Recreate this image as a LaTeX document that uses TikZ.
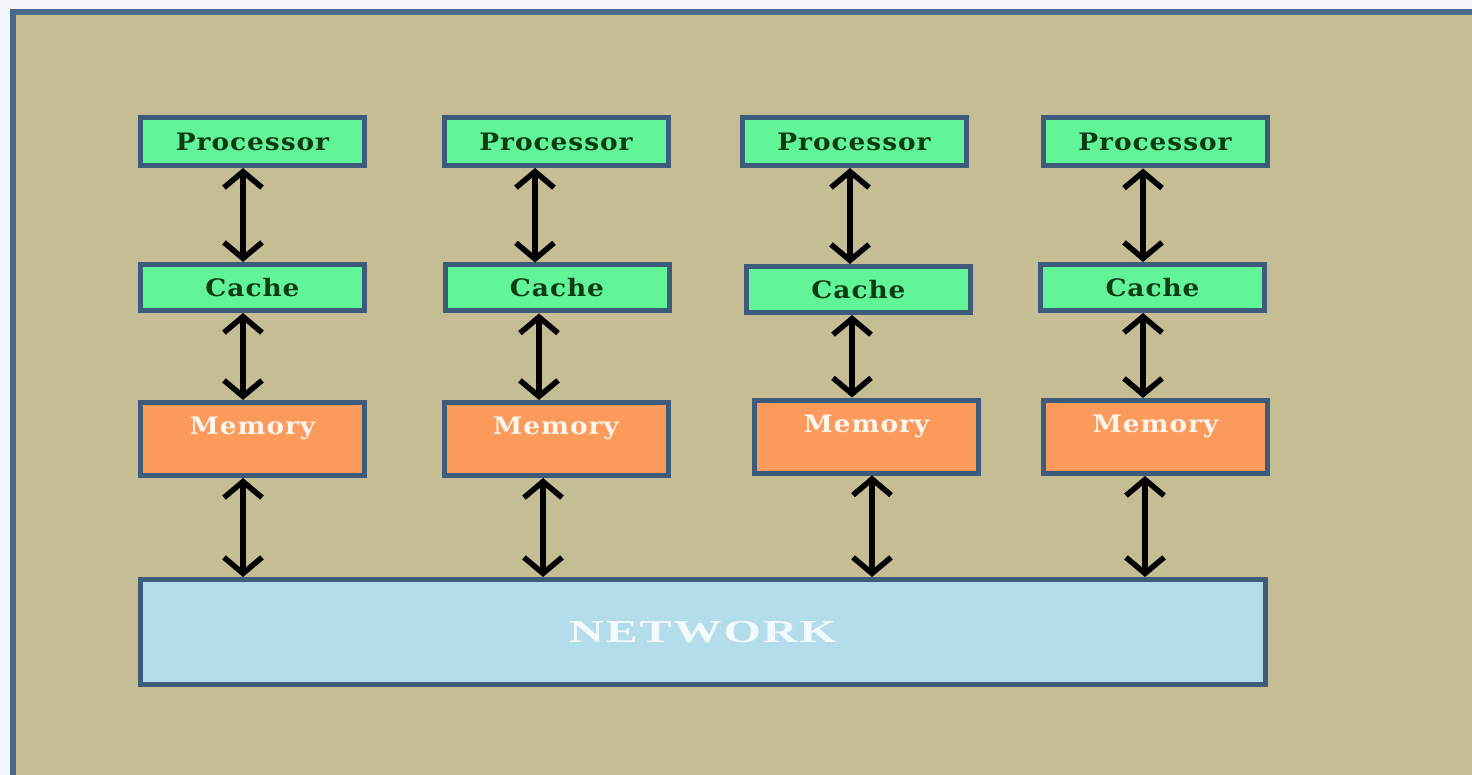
\documentclass[tikz,border=0pt]{standalone}
\usepackage{fontspec}
\usetikzlibrary{arrows.meta}
\newfontfamily\boxfont[FakeStretch=1.1,LetterSpace=4]{DejaVu Serif}
\newfontfamily\netfont[FakeStretch=1.5,LetterSpace=6]{Liberation Serif}
\definecolor{pagebg}{HTML}{F4F7FB}
\definecolor{bgtan}{HTML}{C5BD93}
\definecolor{framec}{HTML}{4A6A8C}
\definecolor{bordc}{HTML}{3E5C7A}
\definecolor{boxgreen}{HTML}{62F598}
\definecolor{txtgreen}{HTML}{0E3B14}
\definecolor{memorange}{HTML}{FC9A5C}
\definecolor{netblue}{HTML}{B4DDEC}
\definecolor{memtxt}{HTML}{FFF6EE}
\definecolor{nettxt}{HTML}{F2FAFF}
\tikzset{
  box/.style={draw=bordc, line width=5pt, inner sep=0pt},
  proc/.style={box, fill=boxgreen, minimum width=224pt, minimum height=48pt,
    font=\boxfont\bfseries\fontsize{24}{24}\selectfont, text=txtgreen},
  cache/.style={box, fill=boxgreen, minimum width=224pt, minimum height=46pt,
    font=\boxfont\bfseries\fontsize{24}{24}\selectfont, text=txtgreen},
  memory/.style={box, fill=memorange, minimum width=224pt, text height=32pt, text depth=41pt,
    font=\boxfont\bfseries\fontsize{24}{24}\selectfont, text=memtxt},
  net/.style={box, fill=netblue, minimum width=1125pt, minimum height=105pt,
    font=\netfont\bfseries\fontsize{32}{32}\selectfont, text=nettxt},
  arr/.style={line width=5.5pt, draw=black,
    {Straight Barb[length=16pt,width=38pt]}-{Straight Barb[length=16pt,width=38pt]}}
}
\begin{document}
\begin{tikzpicture}[x=1pt,y=-1pt]
\useasboundingbox (0,0) rectangle (1472,775);
\fill[pagebg] (0,0) rectangle (1472,775);
\fill[bgtan] (13,12) rectangle (1472,775);
\draw[framec, line width=6pt] (13,775) -- (13,12) -- (1472,12);

\node[proc] (p1) at (252.5,141.5) {Processor};
\node[proc] (p2) at (556,141.5) {Processor};
\node[proc] (p3) at (854,141.5) {Processor};
\node[proc] (p4) at (1155,142) {Processor};

\node[cache] (c1) at (252.5,287.5) {Cache};
\node[cache] (c2) at (557,288) {Cache};
\node[cache] (c3) at (858.5,289.5) {Cache};
\node[cache] (c4) at (1152.5,287.5) {Cache};

\node[memory] (m1) at (252.5,439) {Memory};
\node[memory] (m2) at (556,439) {Memory};
\node[memory] (m3) at (866.5,436.5) {Memory};
\node[memory] (m4) at (1155.5,437) {Memory};

\node[net] (n) at (703,632) {NETWORK};

\draw[arr] ([xshift=-9.5pt]p1.south) -- ([xshift=-9.5pt]c1.north);
\draw[arr] ([xshift=-9.5pt]c1.south) -- ([xshift=-9.5pt]m1.north);
\draw[arr] ([xshift=-9.5pt]m1.south) -- (n.north -| {(243,0)});

\draw[arr] ([xshift=-21pt]p2.south) -- ([xshift=-22pt]c2.north);
\draw[arr] ([xshift=-18pt]c2.south) -- ([xshift=-17pt]m2.north);
\draw[arr] ([xshift=-13pt]m2.south) -- (n.north -| {(543,0)});

\draw[arr] ([xshift=-4pt]p3.south) -- ([xshift=-8.5pt]c3.north);
\draw[arr] ([xshift=-6.5pt]c3.south) -- ([xshift=-14.5pt]m3.north);
\draw[arr] ([xshift=5.5pt]m3.south) -- (n.north -| {(872,0)});

\draw[arr] ([xshift=-12pt]p4.south) -- ([xshift=-9.5pt]c4.north);
\draw[arr] ([xshift=-9.5pt]c4.south) -- ([xshift=-12.5pt]m4.north);
\draw[arr] ([xshift=-10.5pt]m4.south) -- (n.north -| {(1145,0)});
\end{tikzpicture}
\end{document}
